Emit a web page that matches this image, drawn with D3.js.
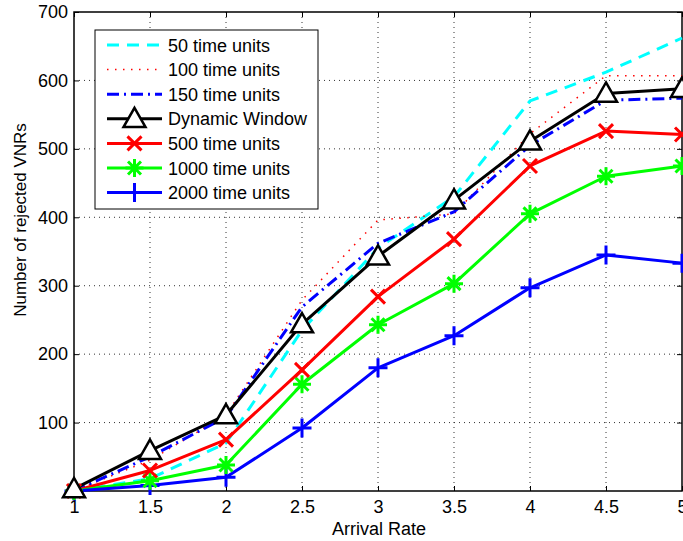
<!DOCTYPE html>
<html>
<head>
<style>
  body { margin: 0; background: #fff; }
  text { font-family: "Liberation Sans", Arial, sans-serif; }
</style>
</head>
<body>
<svg width="683" height="541"></svg>
<script src="https://d3js.org/d3.v7.min.js"></script>
<script>
// data
const rates = [1, 1.5, 2, 2.5, 3, 3.5, 4, 4.5, 5];
const xTicks = [1, 1.5, 2, 2.5, 3, 3.5, 4, 4.5, 5];
const yTicks = [100, 200, 300, 400, 500, 600, 700];
const seriesNames = ["50 time units", "100 time units", "150 time units", "Dynamic Window",
  "500 time units", "1000 time units", "2000 time units"];
const tu50 = [0, 18, 70, 235, 355, 430, 570, 612, 662];
const tu100 = [0, 45, 111, 279, 396, 405, 522, 607, 607];
const tu150 = [0, 50, 108, 269, 362, 408, 505, 571, 574];
const dynamic = [3, 59, 111, 244, 343, 425, 511, 581, 588];
const tu500 = [0, 30, 75, 177, 284, 368, 475, 526, 521];
const tu1000 = [0, 15, 38, 156, 243, 303, 405, 460, 475];
const tu2000 = [0, 8, 20, 92, 180, 227, 297, 345, 333];

const series = [
  {name: seriesNames[0], values: tu50, color: "#00ffff", dash: "12,8", marker: null},
  {name: seriesNames[1], values: tu100, color: "#ff0000", dash: "1.5,6.5", marker: null, width: 1.5},
  {name: seriesNames[2], values: tu150, color: "#0000ff", dash: "12,5,2,5", marker: null},
  {name: seriesNames[3], values: dynamic, color: "#000000", dash: null, marker: "tri"},
  {name: seriesNames[4], values: tu500, color: "#ff0000", dash: null, marker: "x"},
  {name: seriesNames[5], values: tu1000, color: "#00ff00", dash: null, marker: "star"},
  {name: seriesNames[6], values: tu2000, color: "#0000ff", dash: null, marker: "plus"}
];

const svg = d3.select("svg");
const mLeft = 74, mRight = 682, mTop = 12, mBottom = 491;
const fontSize = 18;

const x = d3.scaleLinear().domain([1, 5]).range([mLeft, mRight]);
const y = d3.scaleLinear().domain([0, 700]).range([mBottom, mTop]);

// grid
const grid = svg.append("g");
grid.selectAll(".gx").data(xTicks.slice(1, -1)).enter().append("line")
  .attr("x1", d => x(d)).attr("x2", d => x(d)).attr("y1", mTop).attr("y2", mBottom)
  .attr("stroke", "#333").attr("stroke-width", 1).attr("stroke-dasharray", "1,4");
grid.selectAll(".gy").data(yTicks.slice(0, -1)).enter().append("line")
  .attr("x1", mLeft).attr("x2", mRight).attr("y1", d => y(d)).attr("y2", d => y(d))
  .attr("stroke", "#333").attr("stroke-width", 1).attr("stroke-dasharray", "1,4");

// axes
const xAxis = d3.axisBottom(x).tickValues(xTicks).tickSizeInner(-5).tickSizeOuter(0).tickPadding(9)
  .tickFormat(d3.format("~g"));
const yAxis = d3.axisLeft(y).tickValues(yTicks).tickSizeInner(-5).tickSizeOuter(0).tickPadding(6);

const gx = svg.append("g").attr("transform", `translate(0,${mBottom})`).call(xAxis);
const gy = svg.append("g").attr("transform", `translate(${mLeft},0)`).call(yAxis);
svg.append("g").attr("transform", `translate(0,${mTop})`)
  .call(d3.axisTop(x).tickValues(xTicks).tickSizeInner(-5).tickSizeOuter(0).tickFormat(""));
svg.append("g").attr("transform", `translate(${mRight},0)`)
  .call(d3.axisRight(y).tickValues(yTicks).tickSizeInner(-5).tickSizeOuter(0).tickFormat(""));
svg.selectAll(".domain").remove();
svg.selectAll(".tick line").attr("stroke", "#000");
[gx, gy].forEach(g => g.selectAll("text").attr("font-size", fontSize).attr("fill", "#000")
  .style("font-family", "'Liberation Sans', Arial, sans-serif"));

svg.append("rect").attr("x", mLeft).attr("y", mTop).attr("width", mRight - mLeft).attr("height", mBottom - mTop)
  .attr("fill", "none").attr("stroke", "#000").attr("stroke-width", 1.5);

// axis labels
svg.append("text").attr("x", 379).attr("y", 535).attr("text-anchor", "middle")
  .attr("font-size", fontSize).text("Arrival Rate");
svg.append("text").attr("transform", "translate(26,220) rotate(-90)")
  .attr("text-anchor", "middle").attr("font-size", 17).text("Number of rejected VNRs");

// markers
function drawMarker(g, type, cx, cy, color) {
  if (type === "tri") {
    const s = 11;
    g.append("path").attr("d", `M${cx},${cy - s}L${cx + s},${cy + s * 0.75}L${cx - s},${cy + s * 0.75}Z`)
      .attr("fill", "#fff").attr("stroke", color).attr("stroke-width", 2.5).attr("stroke-linejoin", "miter");
  } else if (type === "x") {
    const s = 7;
    g.append("path").attr("d", `M${cx - s},${cy - s}L${cx + s},${cy + s}M${cx - s},${cy + s}L${cx + s},${cy - s}`)
      .attr("stroke", color).attr("stroke-width", 3);
  } else if (type === "plus") {
    const s = 9.5;
    g.append("path").attr("d", `M${cx - s},${cy}L${cx + s},${cy}M${cx},${cy - s}L${cx},${cy + s}`)
      .attr("stroke", color).attr("stroke-width", 3);
  } else if (type === "star") {
    const s = 9, d = s * 0.72;
    g.append("path").attr("d", `M${cx - s},${cy}L${cx + s},${cy}M${cx},${cy - s}L${cx},${cy + s}` +
      `M${cx - d},${cy - d}L${cx + d},${cy + d}M${cx - d},${cy + d}L${cx + d},${cy - d}`)
      .attr("stroke", color).attr("stroke-width", 3);
  }
}

const line = d3.line().x((d, i) => x(rates[i])).y(d => y(d));
const plot = svg.append("g");
series.forEach(s => {
  plot.append("path").datum(s.values).attr("d", line)
    .attr("fill", "none").attr("stroke", s.color).attr("stroke-width", s.width || 3)
    .attr("stroke-dasharray", s.dash).attr("stroke-linejoin", "round");
});
// marker layers drawn in reverse so the dynamic window triangles stay visible
series.slice().reverse().forEach(s => {
  if (!s.marker) return;
  const g = plot.append("g");
  s.values.forEach((v, i) => drawMarker(g, s.marker, x(rates[i]), y(v), s.color));
});

// legend
const lg = svg.append("g");
lg.append("rect").attr("x", 95).attr("y", 30).attr("width", 223).attr("height", 179)
  .attr("fill", "#fff").attr("stroke", "#000").attr("stroke-width", 1);
series.forEach((s, i) => {
  const ly = 45 + i * 24.6;
  lg.append("line").attr("x1", 107).attr("x2", 162).attr("y1", ly).attr("y2", ly)
    .attr("stroke", s.color).attr("stroke-width", s.width || 3).attr("stroke-dasharray", s.dash);
  if (s.marker) drawMarker(lg, s.marker, 134.5, ly, s.color);
  lg.append("text").attr("x", 168).attr("y", ly + 6.5).attr("font-size", fontSize).text(s.name);
});
</script>
</body>
</html>
